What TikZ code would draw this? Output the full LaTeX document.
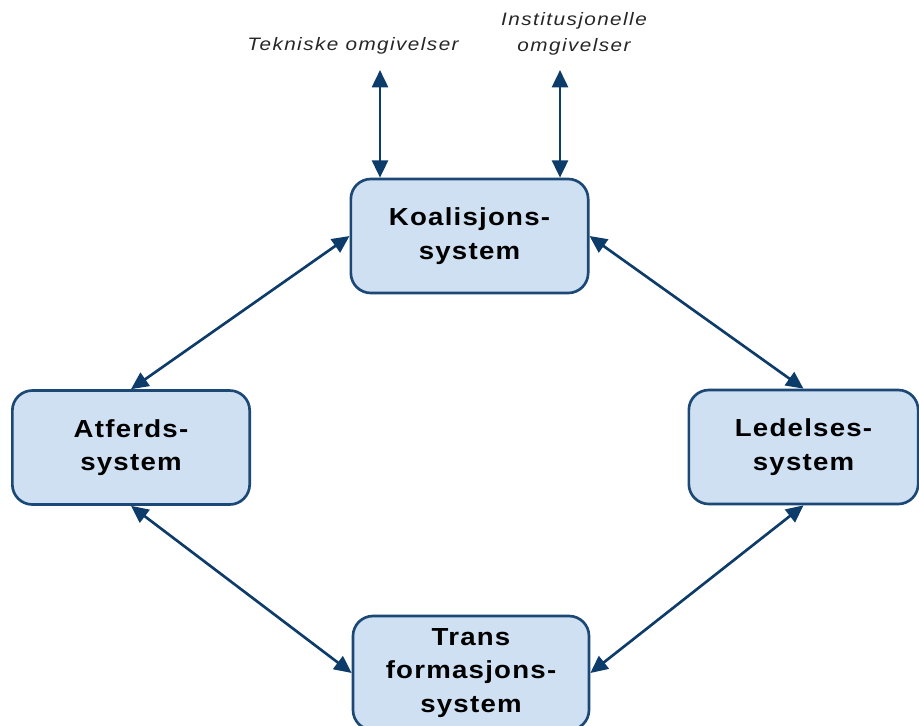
\documentclass[tikz,border=0pt]{standalone}
\usepackage{fontspec}
\setmainfont{Liberation Sans}
\newfontfamily\boxfont[FakeStretch=1.12,LetterSpace=5]{Liberation Sans}
\newfontfamily\envfont[FakeStretch=1.15,LetterSpace=8]{Liberation Sans}
\usetikzlibrary{arrows.meta, positioning}
\definecolor{boxfill}{RGB}{207,224,242}
\definecolor{boxline}{RGB}{28,72,118}
\definecolor{arrowline}{RGB}{14,60,106}
\tikzset{
  sysbox/.style={draw=boxline, fill=boxfill, line width=2pt, rounded corners=15pt,
    minimum width=178pt, minimum height=85.5pt, align=center,
    font=\boxfont\fontsize{18.5}{25}\selectfont\bfseries},
  envlabel/.style={align=center, text=black!85, font=\envfont\fontsize{13.5}{19}\selectfont\itshape},
  link/.style={arrowline, line width=2pt, {Triangle[length=13pt,width=12pt]}-{Triangle[length=13pt,width=12pt]}}
}

\begin{document}
\begin{tikzpicture}[x=0.75pt,y=0.75pt,yscale=-1,xscale=1]
	\useasboundingbox (0,0) rectangle (919,725);
	
	%Shape: Rounded Rect [id:koal] 
	\node [sysbox] (koal) at (469.5,236) {Koalisjons-\\system};
	%Shape: Rounded Rect [id:atf] 
	\node [sysbox] (atf) at (131,447.5) {Atferds-\\system};
	%Shape: Rounded Rect [id:led] 
	\node [sysbox, minimum width=172pt] (led) at (803.5,447) {Ledelses-\\system};
	%Shape: Rounded Rect [id:trans] 
	\node [sysbox, minimum width=177pt] (trans) at (471,673) {Trans\\formasjons-\\system};
	
	% Text Node
	\node [envlabel] (tek) at (353,46) {Tekniske omgivelser};
	% Text Node
	\node [envlabel] (inst) at (574,34) {Institusjonelle\\omgivelser};
	
	\coordinate (tektop) at (380,70);
	\coordinate (insttop) at (560,70);
	
	%Straight Lines [id:up] 
	\draw [link] (tektop) -- (koal.north -| tektop);
	\draw [link] (insttop) -- (koal.north -| insttop);
	
	%Straight Lines [id:ring] 
	\draw [link] (koal.west) -- (atf.north);
	\draw [link] (koal.east) -- (led.north);
	\draw [link] (atf.south) -- (trans.west);
	\draw [link] (led.south) -- (trans.east);
	
\end{tikzpicture}
\end{document}
